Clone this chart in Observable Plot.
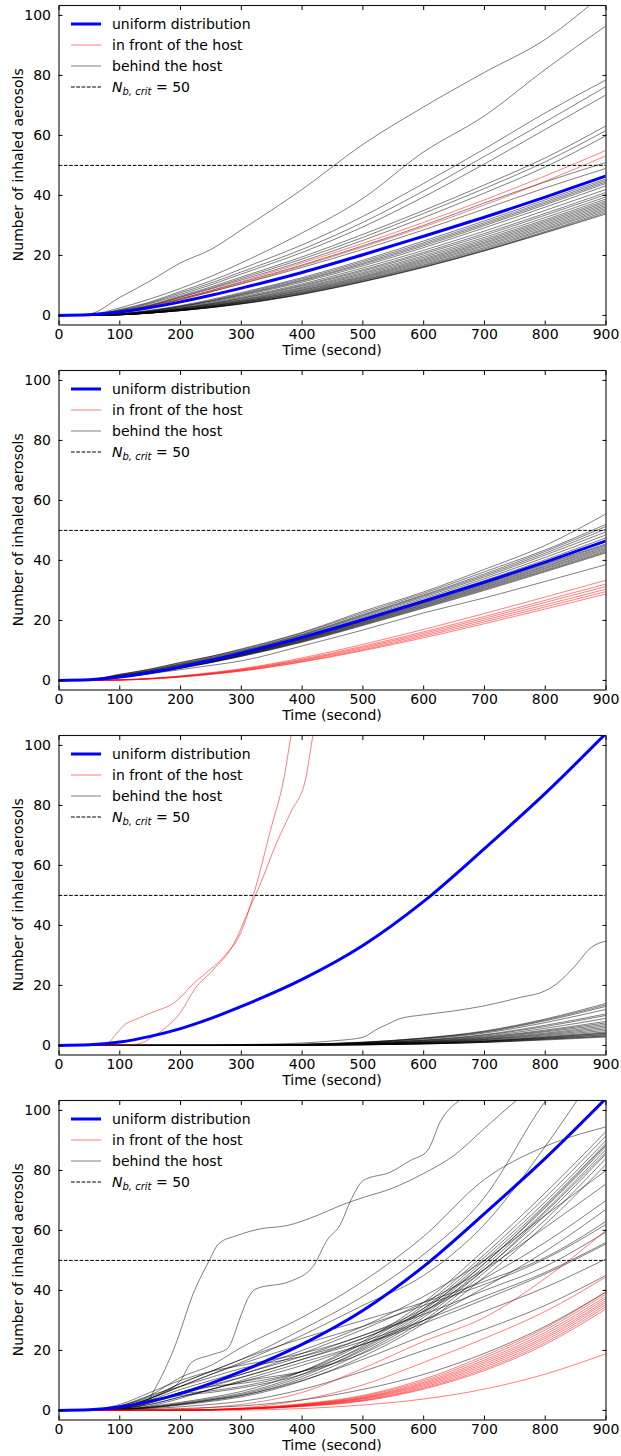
<!DOCTYPE html>
<html><head><meta charset="utf-8">
<script src="https://cdn.jsdelivr.net/npm/d3@7"></script>
<script src="https://cdn.jsdelivr.net/npm/@observablehq/plot@0.6"></script>
<style>
body{margin:0;background:#fff;font-family:"DejaVu Sans",sans-serif}
svg{display:block}
</style>
</head><body><div id="chart"></div>
<script>
// ---------- tick labels / constants ----------
const xTicks = [0,100,200,300,400,500,600,700,800,900];
const yTicks = [0,20,40,60,80,100];
const critLevel = 50;
const xLabel = "Time (second)";
const yLabel = "Number of inhaled aerosols";
const legendLabels = ["uniform distribution","in front of the host","behind the host"];

// common time grid (s)
const T = [0,50,100,150,200,250,300,400,500,600,700,800,900];

// uniform distribution curves
const uniformSlow = [0,0.2,1.1,2.6,4.5,6.7,9.1,14.3,20.2,26.4,32.7,39.4,46.5];
const uniformFast = [0,0.2,1.1,3.0,5.6,9.0,13.0,22.0,33.3,48.0,65.6,84.0,104];

// ---------- panel 1 ----------
const p1Front = [
  [0,0.2,1.2,3.0,5.5,8.3,11.3,17.5,24,31,38.5,46.5,55],
  [0,0.2,1.1,2.8,5.2,7.8,10.6,16.5,22.8,29.5,36.8,44.7,53.2]
];
const p1Behind = [
  [0,0.5,6,11.5,17.5,22,28.5,42,57,69.5,81,92,108],
  [0,0.3,2.5,5.5,9,13,17.5,27.5,39,54.5,66.5,82,96.5],
  [0,0.2,2.0,4.5,8,11.5,15.5,23.5,33,44,55.5,67.5,78.5],
  [0,0.2,1.8,4.2,7.5,10.8,14.5,22,31,41.5,53,64.5,76.3],
  [0,0.2,1.6,3.9,7,10.2,13.8,21,29.5,39.5,50.5,62,73.5],
  [0,0.1,1.5,3.5,6.5,9.5,12.8,19.5,27,35,43.5,52.5,63.2],
  [0,0.1,1.4,3.3,6.2,9.1,12.3,18.8,26,34,42.3,51.2,61.6],
  [0,0.1,1.3,3.2,6,8.8,11.8,18,25,32.6,40.8,49.5,59.9],
  [0,0.1,1.2,3,5.6,8.2,11,16.8,23.2,30,37.5,44.5,51],
  [0,0.1,1.1,2.8,5.3,7.9,10.5,16,22,28.5,35.5,42.5,49],
  [0,0,0.6,1.7,3.3,5.3,7.6,12.6,18.4,24.8,31.5,38.5,45.5],
  [0,0,0.5,1.6,3.1,5.0,7.3,12.2,17.9,24.2,30.9,37.9,45.0],
  [0,0,0.5,1.5,3.0,4.8,7.0,11.8,17.4,23.7,30.4,37.4,44.5],
  [0,0,0.5,1.4,2.9,4.7,6.8,11.5,17.0,23.2,29.9,36.9,44.0],
  [0,0,0.4,1.3,2.7,4.4,6.5,11.1,16.5,22.6,29.2,36.1,43.2],
  [0,0,0.4,1.2,2.5,4.1,6.1,10.5,15.8,21.7,28.1,35.0,42.0],
  [0,0,0.4,1.2,2.4,3.9,5.8,10.1,15.2,21.0,27.3,34.0,41.0],
  [0,0,0.3,1.1,2.3,3.8,5.6,9.8,14.8,20.5,26.7,33.4,40.3],
  [0,0,0.3,1.0,2.2,3.6,5.3,9.4,14.3,19.9,26.0,32.6,39.5],
  [0,0,0.3,1.0,2.1,3.5,5.1,9.1,13.9,19.4,25.4,31.9,38.8],
  [0,0,0.3,0.9,2.0,3.3,4.9,8.8,13.5,18.9,24.9,31.4,38.2],
  [0,0,0.3,0.9,1.9,3.2,4.7,8.5,13.1,18.5,24.4,30.9,37.7],
  [0,0,0.2,0.9,1.9,3.1,4.6,8.3,12.8,18.1,24.0,30.4,37.2],
  [0,0,0.2,0.8,1.8,3.0,4.4,8.0,12.5,17.7,23.5,29.9,36.7],
  [0,0,0.2,0.8,1.7,2.9,4.3,7.8,12.2,17.3,23.1,29.4,36.2],
  [0,0,0.2,0.8,1.7,2.8,4.2,7.6,11.9,16.9,22.6,28.9,35.7],
  [0,0,0.2,0.8,1.6,2.7,4.0,7.4,11.7,16.6,22.2,28.5,35.2],
  [0,0,0.2,0.8,1.6,2.7,3.9,7.2,11.4,16.3,21.8,28.0,34.7],
  [0,0,0.2,0.8,1.6,2.6,3.9,7.1,11.3,16.1,21.6,27.7,34.2],
  [0,0,0.2,0.8,1.6,2.6,3.8,7.0,11.2,16.0,21.5,27.5,33.8]
];

// ---------- panel 2 ----------
const p2Front = [
  [0,0,0.2,0.7,1.5,2.6,3.9,7.5,12,17,22.3,27.8,33.4],
  [0,0,0.2,0.6,1.4,2.4,3.7,7.1,11.4,16.2,21.3,26.7,32.1],
  [0,0,0.2,0.6,1.3,2.3,3.5,6.8,11.0,15.7,20.7,26.0,31.3],
  [0,0,0.1,0.5,1.2,2.2,3.4,6.6,10.6,15.2,20.1,25.2,30.4],
  [0,0,0.1,0.5,1.2,2.1,3.2,6.3,10.2,14.7,19.5,24.5,29.6],
  [0,0,0.1,0.5,1.1,2.0,3.1,6.1,9.9,14.2,18.9,23.8,28.8]
];
const p2Behind = [
  [0,0.3,2,3.8,6,8,10.5,16,23,29.5,37,45,55.5],
  [0,0.3,2,3.7,5.9,8,10.3,15.8,22.5,29,36.2,43.5,52],
  [0,0.2,1.8,3.5,5.6,7.7,10,15.4,22,28.5,35.5,43,51.3],
  [0,0.2,1.7,3.3,5.4,7.5,9.8,15.2,21.7,28.2,35,42.4,50.5],
  [0,0.2,1.6,3.2,5.3,7.3,9.6,15,21.4,27.8,34.5,41.8,49.5],
  [0,0.2,1.5,3.1,5.1,7.1,9.4,14.7,21,27.3,33.9,41,48.5],
  [0,0.2,1.5,3,5,7,9.2,14.4,20.6,26.8,33.3,40.2,47.5],
  [0,0.1,1.2,2.7,4.6,6.6,8.8,13.9,19.8,26,32.4,38.9,45.5],
  [0,0.1,1.2,2.7,4.5,6.5,8.7,13.8,19.7,25.8,32.1,38.6,45.2],
  [0,0.1,1.1,2.6,4.4,6.4,8.6,13.6,19.5,25.6,31.8,38.2,44.8],
  [0,0.1,1.1,2.6,4.4,6.3,8.5,13.5,19.3,25.3,31.5,37.9,44.4],
  [0,0.1,1.1,2.5,4.3,6.2,8.4,13.3,19.1,25.1,31.2,37.5,44.0],
  [0,0.1,1.0,2.5,4.2,6.1,8.3,13.2,18.9,24.8,30.9,37.2,43.6],
  [0,0.1,1.0,2.4,4.1,6.0,8.2,13.0,18.7,24.6,30.6,36.8,43.2],
  [0,0.1,1.0,2.4,4.1,6.0,8.1,12.9,18.5,24.3,30.3,36.5,42.8],
  [0,0.1,1.0,2.3,4.0,5.9,8.0,12.7,18.3,24.1,30,36.2,42.5],
  [0,0.1,1,2.2,3.6,5,6.5,11.5,16.8,22.5,27.5,33,38.6]
];

// ---------- panel 3 ----------
const p3FrontTimes = [
  [0,50,76,95,106,130,160,188,200,218,241,271,300,324,347,371,382,390],
  [0,100,130,159,176,200,224,253,288,312,329,359,382,406,418,425]
];
const p3FrontValues = [
  [0,0,0.2,4,6.5,9,11.5,14,16,20,24,29.5,38,53,71,90,103.5,112],
  [0,0,0.5,3.5,6,11,19,25,34,45,52.7,68,78,89,103.5,110]
];
const p3BehindSpecialTimes = [[0,300,400,450,500,523,541,559,600,650,700,759,800,818,847,876,900]];
const p3BehindSpecialValues = [[0,0.3,0.8,1.5,2.7,5.4,7.1,8.8,10.2,11.5,13.2,16,18.2,20.4,26,32.7,34.8]];
const p3Behind = [
  [0,0,0,0,0,0,0.1,0.4,1.1,2.5,4.8,8.8,14],
  [0,0,0,0,0,0,0.1,0.4,1,2.4,4.6,8.5,13.5],
  [0,0,0,0,0,0,0.1,0.3,1,2.3,4.4,8.2,13],
  [0,0,0,0,0,0,0.1,0.3,0.9,2.1,4.1,7.6,12],
  [0,0,0,0,0,0,0.1,0.3,0.8,1.8,3.6,6.7,10.5],
  [0,0,0,0,0,0,0.1,0.3,0.8,1.7,3.4,6.3,10],
  [0,0,0,0,0,0,0,0.2,0.7,1.6,3.1,5.7,9],
  [0,0,0,0,0,0,0,0.2,0.6,1.4,2.8,5.1,8],
  [0,0,0,0,0,0,0,0.2,0.6,1.3,2.6,4.8,7.5],
  [0,0,0,0,0,0,0,0.2,0.5,1.2,2.4,4.5,7],
  [0,0,0,0,0,0,0,0.2,0.5,1.1,2.2,4.1,6.5],
  [0,0,0,0,0,0,0,0.1,0.4,1,2,3.8,6],
  [0,0,0,0,0,0,0,0.1,0.4,0.9,1.9,3.5,5.5],
  [0,0,0,0,0,0,0,0.1,0.4,0.9,1.7,3.2,5],
  [0,0,0,0,0,0,0,0.1,0.3,0.8,1.5,2.9,4.5],
  [0,0,0,0,0,0,0,0.1,0.3,0.7,1.4,2.7,4.2],
  [0,0,0,0,0,0,0,0.1,0.3,0.7,1.4,2.6,4],
  [0,0,0,0,0,0,0,0.1,0.3,0.6,1.3,2.4,3.7],
  [0,0,0,0,0,0,0,0.1,0.2,0.6,1.2,2.3,3.5],
  [0,0,0,0,0,0,0,0.1,0.2,0.5,1.1,2.1,3.2],
  [0,0,0,0,0,0,0,0.1,0.2,0.5,1,2,3],
  [0,0,0,0,0,0,0,0.1,0.2,0.5,1,1.8,2.8]
];

// ---------- panel 4 ----------
const p4Front = [
  [0,0,0,0.1,0.3,1,2,6,14,23,31,44,60],
  [0,0,0,0,0.1,0.3,0.8,3.5,8.5,16,24,33,44.5],
  [0,0,0,0,0.1,0.3,0.7,2.2,5,10.4,18.2,27.5,39.5],
  [0,0,0,0,0.1,0.3,0.6,2,4.7,9.9,17.5,26.8,38.8],
  [0,0,0,0,0.1,0.2,0.6,1.9,4.4,9.4,16.8,26,38],
  [0,0,0,0,0.1,0.2,0.5,1.8,4.2,9,16.2,25.3,37.3],
  [0,0,0,0,0.1,0.2,0.5,1.7,4,8.6,15.6,24.6,36.6],
  [0,0,0,0,0,0.2,0.5,1.6,3.8,8.2,15,24,36],
  [0,0,0,0,0,0.2,0.4,1.5,3.5,7.8,14.4,23.3,35.3],
  [0,0,0,0,0,0.1,0.4,1.4,3.3,7.4,13.8,22.6,34.6],
  [0,0,0,0,0,0.1,0.4,1.3,3.1,7.1,13.3,22,33.8],
  [0,0,0,0,0,0,0.1,0.6,1.8,3.8,7.1,12.1,18.9]
];
const p4BehindSpecialTimes = [
  [0,100,140,160,175,190,222,246,263,293,331,375,425,463,501,545,600,650,700,754,770],
  [0,100,150,200,218,250,277,300,310,324,380,418,441,463,480,501,545,578,606,628,660,680]
];
const p4BehindSpecialValues = [
  [0,0.3,2,8,14,21,39.5,49.5,55.6,58.3,60.5,61.6,65,68.3,71,73.8,79,85,94,103.5,106],
  [0,0.5,4,10,16,18.5,20.6,32,37,40.5,43,48,56.7,62,70,76.7,79.4,83.3,86.5,96.5,103.5,106]
];
const p4Behind = [
  [0,0.2,1.5,5,11,15,21,31,43,58,77,88,94.5],
  [0,0.1,1,4,9,13,17,27,38,52,71,103,125],
  [0,0.1,1.2,4,8,12,16,25,35,45,62,88,118],
  [0,0.1,1,3.5,7,10,13,20,28,38,50,65,80],
  [0,0.1,0.8,3,6,9,12,19,27,36,47,61,75.5],
  [0,0.1,1,3,6,8.5,11,17,24,33,44,56,70],
  [0,0,0.6,2,4.5,7,9.5,15,22,30,41,53,67],
  [0,0.2,1.5,4.5,9,13,17,24,30,36,43,51,63],
  [0,0.2,1.2,4,8,12,15.5,22,28,35,42,50.5,62],
  [0,0.1,1,3,6,9,12,18,25,32,40,48,59.5],
  [0,0.1,0.8,2.5,5.5,8,11,17,23,30,38,46,56],
  [0,0.1,0.6,2,4.5,7,10,16,22,29,37,45.5,55.5],
  [0,0,0.3,1,2,3.5,5,10,17,25,33,41,50.5],
  [0,0,0.2,0.6,1.2,2,3,7,13,20,27,35,45],
  [0,0,0.1,0.3,0.6,1,1.5,3.5,7,12,19,28,39.5],
  [0,0.2,2,6,10,13,15,19,25,34,49,68,88.5],
  [0,0.1,1.5,5,8,11,14,18,24,33,47,66,86],
  [0,0,0.4,1.3,2.7,4.3,6.3,13,23,36,53.5,72.5,93],
  [0,0.1,1,3,5.5,6.5,8,13,22.3,35,52,71,91.5],
  [0,0,0.3,1.1,2.4,3.9,5.7,12,21.5,34,51,69.5,90],
  [0,0,0.5,2.5,6,8,9,13,21,33.3,50,68.5,89],
  [0,0,0.3,1,2.2,3.6,5.3,11.3,20.5,32.5,49,67.5,88],
  [0,0,0.8,3.5,5,6,7.5,12,20,31.8,48,66.5,87],
  [0,0,0.3,0.9,2,3.3,4.9,10.6,19.3,31,47,65,85.5],
  [0,0,0.2,1.5,4,7,9.5,13,19,30,46,63.5,84],
  [0,0,0.2,0.8,1.8,3,4.5,9.8,18,29,44.5,62,82]
];

// ---------- helpers ----------
function seriesRows(times, list, tag) {
  const rows = [];
  list.forEach((vals, i) => {
    const tt = Array.isArray(times[0]) ? times[i] : times;
    vals.forEach((v, j) => rows.push({id: tag + i, t: tt[j], v}));
  });
  return rows;
}

const panels = [
  {
    behind: seriesRows(T, p1Behind, "b"),
    front: seriesRows(T, p1Front, "f"),
    uniform: seriesRows(T, [uniformSlow], "u")
  },
  {
    behind: seriesRows(T, p2Behind, "b"),
    front: seriesRows(T, p2Front, "f"),
    uniform: seriesRows(T, [uniformSlow], "u")
  },
  {
    behind: seriesRows(T, p3Behind, "b").concat(seriesRows(p3BehindSpecialTimes, p3BehindSpecialValues, "s")),
    front: seriesRows(p3FrontTimes, p3FrontValues, "f"),
    uniform: seriesRows(T, [uniformFast], "u")
  },
  {
    behind: seriesRows(T, p4Behind, "b").concat(seriesRows(p4BehindSpecialTimes, p4BehindSpecialValues, "s")),
    front: seriesRows(T, p4Front, "f"),
    uniform: seriesRows(T, [uniformFast], "u")
  }
];

const W = 621, H = 365, ML = 58.5, MR = 15.5, MT = 5, MB = 40.5;
const FONT = "DejaVu Sans";

function drawPanel(p) {
  const lineOpts = {x: "t", y: "v", z: "id", curve: "monotone-x", clip: true};
  const svgEl = Plot.plot({
    width: W, height: H,
    marginLeft: ML, marginRight: MR, marginTop: MT, marginBottom: MB,
    style: {fontFamily: FONT, fontSize: "14px", color: "black", background: "white", overflow: "visible"},
    x: {domain: [0, 900], label: null},
    y: {domain: [-3.2, 103.3], label: null},
    marks: [
      Plot.line(p.behind, {...lineOpts, stroke: "black", strokeOpacity: 0.5, strokeWidth: 1}),
      Plot.line(p.front, {...lineOpts, stroke: "red", strokeOpacity: 0.5, strokeWidth: 1}),
      Plot.line(p.uniform, {...lineOpts, stroke: "#0000ff", strokeWidth: 3}),
      Plot.ruleY([critLevel], {stroke: "black", strokeWidth: 1, strokeDasharray: "3.7,1.6"}),
      Plot.frame({stroke: "#111", strokeWidth: 1.1}),
      Plot.axisX(xTicks, {anchor: "bottom", tickSize: -4, tickPadding: 8.5, fontSize: 14, label: null}),
      Plot.axisX(xTicks, {anchor: "top", tickSize: -4, tickFormat: () => "", label: null}),
      Plot.axisY(yTicks, {anchor: "left", tickSize: -4, tickPadding: 12, fontSize: 14, label: null}),
      Plot.axisY(yTicks, {anchor: "right", tickSize: -4, tickFormat: () => "", label: null})
    ]
  });
  const svg = d3.select(svgEl);
  // axis titles
  svg.append("text").attr("x", (ML + W - MR) / 2).attr("y", 355)
    .attr("text-anchor", "middle").attr("font-family", FONT).attr("font-size", 14)
    .attr("fill", "black").text(xLabel);
  svg.append("text").attr("transform", `translate(18,${(MT + H - MB) / 2}) rotate(-90)`)
    .attr("text-anchor", "middle").attr("dominant-baseline", "central")
    .attr("font-family", FONT).attr("font-size", 14).attr("fill", "black").text(yLabel);
  // legend
  const lg = svg.append("g").attr("text-anchor", "start");
  const rowsY = [24, 45, 66, 87];
  const sw = [
    {stroke: "#0000ff", width: 3, opacity: 1, dash: null},
    {stroke: "red", width: 1, opacity: 0.5, dash: null},
    {stroke: "black", width: 1, opacity: 0.5, dash: null},
    {stroke: "black", width: 1, opacity: 1, dash: "3.7,1.6"}
  ];
  sw.forEach((s, i) => {
    lg.append("line").attr("x1", 71).attr("x2", 101).attr("y1", rowsY[i]).attr("y2", rowsY[i])
      .attr("stroke", s.stroke).attr("stroke-width", s.width).attr("stroke-opacity", s.opacity)
      .attr("stroke-dasharray", s.dash);
  });
  legendLabels.forEach((lab, i) => {
    lg.append("text").attr("x", 112).attr("y", rowsY[i] + 5).attr("text-anchor", "start")
      .attr("font-family", FONT).attr("font-size", 14).attr("fill", "black").text(lab);
  });
  const t4 = lg.append("text").attr("x", 112).attr("y", rowsY[3] + 5).attr("text-anchor", "start")
    .attr("font-family", FONT).attr("font-size", 14).attr("fill", "black");
  t4.append("tspan").attr("font-style", "italic").text("N");
  t4.append("tspan").attr("font-style", "italic").attr("font-size", 10).attr("dy", 3).text("b, crit");
  t4.append("tspan").attr("dy", -3).text(" = " + critLevel);
  return svgEl;
}

const root = document.getElementById("chart");
panels.forEach(p => root.appendChild(drawPanel(p)));
</script>
</body></html>
